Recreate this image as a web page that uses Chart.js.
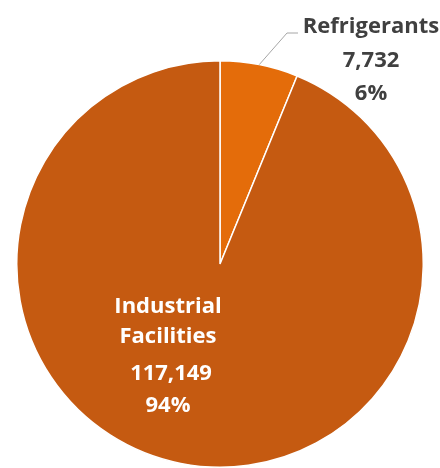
<!DOCTYPE html>
<html>
<head>
<meta charset="utf-8">
<script src="https://cdn.jsdelivr.net/npm/chart.js@4/dist/chart.umd.min.js"></script>
<style>
  html, body { margin: 0; padding: 0; background: #ffffff; }
  #wrap { width: 440px; height: 468px; }
</style>
</head>
<body>
<div id="wrap"><canvas id="c" width="440" height="468"></canvas></div>
<script>
// Emissions by source
const categories = ['Refrigerants', 'Industrial Facilities'];
const labelLines = [['Refrigerants'], ['Industrial', 'Facilities']];
const values = [7732, 117149];
const colors = ['#E46C0A', '#C55A11'];

const total = values.reduce((a, b) => a + b, 0);
const fmt = v => v.toLocaleString('en-US');
const pct = v => Math.round(v / total * 100) + '%';

const FONT = 'bold 22px "Open Sans", Lato, sans-serif';

// Draws the data labels: an outside callout for the small slice, inside text for the large one
const sliceLabels = {
  id: 'sliceLabels',
  afterDatasetsDraw(chart) {
    const ctx = chart.ctx;
    const meta = chart.getDatasetMeta(0);
    const arc0 = meta.data[0];
    const cx = arc0.x, cy = arc0.y, r = arc0.outerRadius;

    ctx.save();
    ctx.font = FONT;
    ctx.textAlign = 'center';
    ctx.textBaseline = 'alphabetic';

    // Outside label with leader line from the middle of the first slice
    const mid0 = (arc0.startAngle + arc0.endAngle) / 2;
    const sx = cx + Math.cos(mid0) * r;
    const sy = cy + Math.sin(mid0) * r;
    ctx.strokeStyle = '#A6A6A6';
    ctx.lineWidth = 1;
    ctx.beginPath();
    ctx.moveTo(sx, sy);
    ctx.lineTo(cx + 67, cy - 231);
    ctx.lineTo(cx + 78, cy - 231);
    ctx.stroke();

    const lx = cx + 151;
    ctx.fillStyle = '#404040';
    const lines0 = [...labelLines[0], fmt(values[0]), pct(values[0])];
    const base0 = [cy - 231, cy - 197, cy - 164];
    lines0.forEach((t, i) => ctx.fillText(t, lx, base0[i]));

    // Inside label for the second slice
    const ix = cx - 52;
    ctx.fillStyle = '#FFFFFF';
    const lines1 = [...labelLines[1], fmt(values[1]), pct(values[1])];
    const base1 = [cy + 49, cy + 79, cy + 116, cy + 148];
    lines1.forEach((t, i) => ctx.fillText(t, ix + (i === 2 ? 3 : 0), base1[i]));
    ctx.restore();
  }
};

new Chart(document.getElementById('c'), {
  type: 'pie',
  data: {
    labels: categories,
    datasets: [{
      data: values,
      backgroundColor: colors,
      borderColor: '#FFFFFF',
      borderWidth: 1.5
    }]
  },
  options: {
    responsive: false,
    animation: false,
    layout: { padding: { top: 60, left: 15, right: 15, bottom: 0 } },
    plugins: {
      legend: { display: false },
      tooltip: { enabled: false }
    }
  },
  plugins: [sliceLabels]
});
</script>
</body>
</html>
